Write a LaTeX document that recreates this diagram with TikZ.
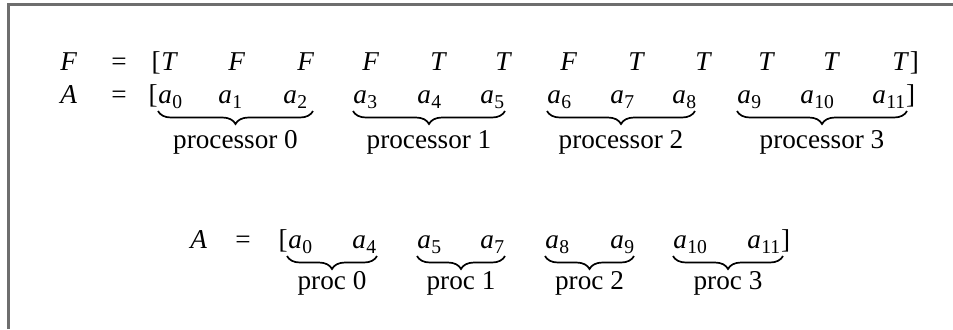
\documentclass[tikz,border=0pt]{standalone}
\usepackage{fontspec}
\setmainfont{Liberation Serif}
\usetikzlibrary{decorations.pathreplacing}
\newcommand{\sa}[1]{\textit{a}\kern0.2pt\raisebox{-2.6pt}{\fontsize{9.8}{10}\selectfont #1}}
\tikzset{
  txt/.style={inner sep=0pt, anchor=base west, font=\fontsize{13.6}{15}\selectfont},
  ctr/.style={inner sep=0pt, anchor=base, font=\fontsize{13.6}{15}\selectfont},
  brc/.style={decorate, decoration={brace, mirror, amplitude=6.5pt}, line width=0.85pt},
  frame/.style={draw=black!57, line width=1.1pt}
}
\begin{document}
\begin{tikzpicture}[x=0.5pt, y=-0.5pt]
\useasboundingbox (0,0) rectangle (953,329);
\draw[frame] (8.5,329) -- (8.5,4.5) -- (953,4.5);
% top F row
\node[txt] (fF) at (60,70) {\textit{F}};
\node[ctr] (fE) at (119,70) {=};
\node[txt, anchor=base east] (fL) at (161,70) {[};
\foreach \x/\c [count=\i] in {161/T,228/F,297/F,362/F,430/T,495/T,560/F,628/T,695/T,758/T,823/T,892/T}
  \node[txt] (f\i) at (\x,70) {\textit{\c}};
\node[txt] (fR) at (f12.base east) {]};
% A row
\node[txt] (aA) at (60,103) {\textit{A}};
\node[ctr] (aE) at (119,103) {=};
\node[txt, anchor=base east] (aL) at (158,103) {[};
\foreach \x/\n [count=\i] in {158/0,218/1,283/2,353/3,417/4,480/5,547/6,610/7,672/8,737/9,800/10,872/11}
  \node[txt] (a\i) at (\x,103) {\sa{\n}};
\node[txt] (aR) at (a12.base east) {]};
% braces
\coordinate (b0s) at (158,111); \coordinate (b0e) at (313,111);
\coordinate (b1s) at (353,111); \coordinate (b1e) at (505,111);
\coordinate (b2s) at (547,111); \coordinate (b2e) at (695,111);
\coordinate (b3s) at (737,111); \coordinate (b3e) at (907,111);
\draw[brc] (b0s) -- (b0e);
\draw[brc] (b1s) -- (b1e);
\draw[brc] (b2s) -- (b2e);
\draw[brc] (b3s) -- (b3e);
\node[ctr] (p0) at (235.5,148) {processor 0};
\node[ctr] (p1) at (429,148) {processor 1};
\node[ctr] (p2) at (621,148) {processor 2};
\node[ctr] (p3) at (822,148) {processor 3};
% bottom row
\node[txt] (bA) at (190,248) {\textit{A}};
\node[ctr] (bE) at (243,248) {=};
\node[txt, anchor=base east] (bL) at (288,248) {[};
\foreach \x/\n [count=\i] in {288/0,352/4,417/5,480/7,545/8,610/9,673/10,747/11}
  \node[txt] (c\i) at (\x,248) {\sa{\n}};
\node[txt] (bR) at (c8.base east) {]};
\coordinate (d0s) at (287,256); \coordinate (d0e) at (377,256);
\coordinate (d1s) at (417,256); \coordinate (d1e) at (505,256);
\coordinate (d2s) at (545,256); \coordinate (d2e) at (634,256);
\coordinate (d3s) at (673,256); \coordinate (d3e) at (783,256);
\draw[brc] (d0s) -- (d0e);
\draw[brc] (d1s) -- (d1e);
\draw[brc] (d2s) -- (d2e);
\draw[brc] (d3s) -- (d3e);
\node[ctr] (q0) at (332,289) {proc 0};
\node[ctr] (q1) at (461,289) {proc 1};
\node[ctr] (q2) at (589.5,289) {proc 2};
\node[ctr] (q3) at (728,289) {proc 3};
\end{tikzpicture}
\end{document}
